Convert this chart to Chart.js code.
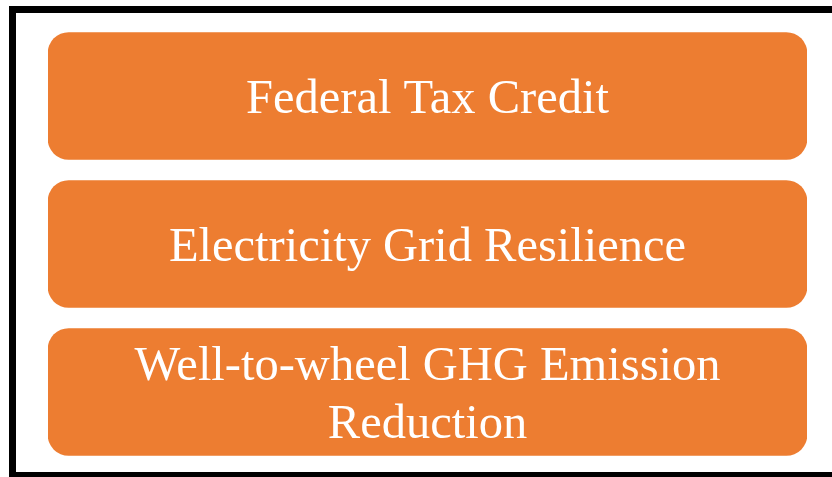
<!DOCTYPE html>
<html>
<head>
<meta charset="utf-8">
<script src="https://cdn.jsdelivr.net/npm/chart.js@4"></script>
<style>
html,body{margin:0;padding:0;background:#fff;}
#wrap{width:832px;height:477px;position:relative;}
</style>
</head>
<body>
<div id="wrap"><canvas id="c" width="832" height="477"></canvas></div>
<script>
const categories = [
  ['Federal Tax Credit'],
  ['Electricity Grid Resilience'],
  ['Well-to-wheel GHG Emission', 'Reduction']
];
const values = [1, 1, 1];
const barColor = '#ED7D31';

const framePlugin = {
  id: 'frame',
  beforeDraw(chart) {
    const ctx = chart.ctx;
    ctx.save();
    ctx.fillStyle = '#ffffff';
    ctx.fillRect(0, 0, chart.width, chart.height);
    ctx.strokeStyle = '#000000';
    ctx.lineWidth = 7;
    ctx.strokeRect(12.5, 9.5, 840, 466);
    ctx.restore();
  }
};

const labelPlugin = {
  id: 'boxLabels',
  afterDatasetsDraw(chart) {
    const ctx = chart.ctx;
    const meta = chart.getDatasetMeta(0);
    ctx.save();
    ctx.fillStyle = '#ffffff';
    ctx.font = '48.5px "Liberation Serif", "Times New Roman", serif';
    ctx.textAlign = 'center';
    ctx.textBaseline = 'alphabetic';
    const lineH = 58;
    meta.data.forEach((bar, i) => {
      const lines = chart.data.labels[i];
      const cx = (bar.base + bar.x) / 2;
      const cy = bar.y + 17;
      const start = cy - (lines.length - 1) * lineH / 2;
      lines.forEach((t, j) => ctx.fillText(t, cx, start + j * lineH));
    });
    ctx.restore();
  }
};

new Chart(document.getElementById('c'), {
  type: 'bar',
  data: {
    labels: categories,
    datasets: [{
      data: values,
      backgroundColor: barColor,
      borderRadius: 21,
      borderSkipped: false,
      barThickness: 127
    }]
  },
  options: {
    indexAxis: 'y',
    responsive: false,
    animation: false,
    devicePixelRatio: 1,
    layout: { padding: { left: 48, right: 25, top: 22, bottom: 11 } },
    plugins: { legend: { display: false }, tooltip: { enabled: false } },
    scales: {
      x: { display: false, min: 0, max: 1 },
      y: { display: false }
    }
  },
  plugins: [framePlugin, labelPlugin]
});
</script>
</body>
</html>
